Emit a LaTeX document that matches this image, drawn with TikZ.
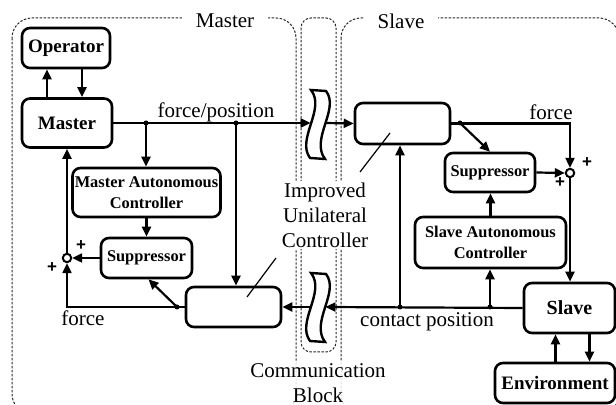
\documentclass[tikz,border=0pt]{standalone}
\usepackage{fontspec}
\setmainfont{Liberation Serif}
\newfontfamily\signfont{Liberation Sans}
\usetikzlibrary{arrows.meta}

\tikzset{
  box/.style={draw, line width=1.3pt, rounded corners=4pt, inner sep=1pt, align=center},
  big/.style={font=\bfseries\fontsize{9.5}{11}\selectfont},
  small/.style={font=\bfseries\fontsize{8.2}{10.5}\selectfont},
  arr/.style={line width=1.1pt, -{Triangle[length=5pt,width=4.5pt]}},
  lbl/.style={font=\fontsize{10.5}{12.5}\selectfont, inner sep=1pt, align=center},
  region/.style={line width=0.5pt, black!85, dash pattern=on 1.2pt off 0.8pt, rounded corners=10pt},
  sumj/.style={draw, circle, line width=1pt, minimum size=4.2pt, inner sep=0pt, fill=white},
  sgn/.style={font=\signfont\bfseries\fontsize{8.5}{8.5}\selectfont, inner sep=0pt},
  pointer/.style={line width=0.6pt},
}

\begin{document}
\begin{tikzpicture}[x=0.5pt, y=-0.5pt]
  \useasboundingbox (0,0) rectangle (616,405);

  % Regions
  \begin{scope}
    \clip (0,0) rectangle (616,405);
    \draw[region] (12,18) rectangle (296,414);
    \draw[region] (341,18) rectangle (619,414);
  \end{scope}
  \draw[region, rounded corners=5pt] (301,18) rectangle (336,352);
  \node[lbl, fill=white, inner xsep=7pt] (mreg) at (225,21) {Master};
  \node[lbl, fill=white, inner xsep=7pt] (sreg) at (401,21) {Slave};

  % Master side
  \node[box, big, minimum width=44pt, minimum height=20pt] (op) at (66,48) {Operator};
  \node[box, big, minimum width=45pt, minimum height=24.5pt] (ms) at (67,123) {Master};
  \node[box, small, minimum width=74pt, minimum height=24.5pt] (mac) at (146.5,192.5) {Master Autonomous\\Controller};
  \node[box, small, minimum width=45.5pt, minimum height=20pt] (msup) at (146.5,258) {Suppressor};
  \node[box, minimum width=47.5pt, minimum height=20pt] (mblk) at (233.5,307) {};
  \node[sumj] (mj) at (67,258) {};

  % Slave side
  \node[box, minimum width=47.5pt, minimum height=20.5pt] (sblk) at (402.5,123.5) {};
  \node[box, small, minimum width=45pt, minimum height=19.5pt] (ssup) at (490,172.5) {Suppressor};
  \node[box, small, minimum width=75.5pt, minimum height=25.5pt] (sac) at (490.5,242.5) {Slave Autonomous\\Controller};
  \node[box, font=\bfseries\fontsize{10}{12}\selectfont, minimum width=45.5pt, minimum height=25pt] (sl) at (569.5,308) {Slave};
  \node[box, big, minimum width=60pt, minimum height=20pt] (env) at (555,383) {Environment};
  \node[sumj] (sj) at (570,173) {};

  % Communication block
  \foreach \wy in {124,307} {
    \draw[line width=1.2pt, fill=white] (311,\wy-34) -- (326,\wy-33)
      .. controls (340,\wy-15) and (310,\wy+15) .. (325,\wy+35) -- (310,\wy+34)
      .. controls (296,\wy+15) and (326,\wy-15) .. cycle;
  }
  \node[inner sep=0pt, minimum width=7pt, minimum height=34pt] (wu) at (318,123) {};
  \node[inner sep=0pt, minimum width=7pt, minimum height=34pt] (wl) at (318,307) {};
  \node[lbl, fill=white] (ctrl) at (325,215) {Improved\\Unilateral\\Controller};
  \node[lbl, fill=white, fill opacity=0.85, text opacity=1] (comm) at (318,383) {Communication\\Block};

  % Branch points
  \coordinate (d1) at (146,123);
  \coordinate (d2) at (236,123);
  \coordinate (d3) at (177,307);
  \coordinate (d4) at (460,123);
  \coordinate (d5) at (400,307);
  \coordinate (d6) at (490,307);
  \foreach \d in {d1,d2,d3,d4,d5,d6} \fill (\d) circle (1.25pt);

  % Master arrows
  \draw[arr] ([xshift=-10pt]ms.north) -- ([xshift=-10pt]ms.north |- op.south);
  \draw[arr] ([xshift=7.5pt]ms.north |- op.south) -- ([xshift=7.5pt]ms.north);
  \draw[arr] (ms.east) -- (wu.west);
  \draw[arr] (d1) -- (d1 |- mac.north);
  \draw[arr] (d2) -- (d2 |- mblk.north);
  \draw[arr] (mac.south) -- (msup.north);
  \draw[arr] (msup.west) -- (mj.east);
  \draw[arr] (mj.north) -- (ms.south);
  \draw[arr] (mblk.west) -| (mj.south);
  \draw[arr] (d3) -- ([xshift=1pt]msup.south);
  \draw[arr] (wl.west) -- (mblk.east);

  % Slave arrows
  \draw[arr] (wu.east) -- (sblk.west);
  \draw[arr] (sblk.east) -| (sj.north);
  \draw[arr] (d4) -- (ssup.north);
  \draw[arr] (ssup.east) -- (sj.west);
  \draw[arr] (sj.south) -- (sj.south |- sl.north);
  \draw[arr] (sac.north) -- (sac.north |- ssup.south);
  \draw[arr] (sl.west) -- (wl.east);
  \draw[arr] (d5) -- (d5 |- sblk.south);
  \draw[arr] (d6) -- (d6 |- sac.south);
  \draw[arr] ([xshift=10pt]sl.south) -- ([xshift=10pt]sl.south |- env.north);
  \draw[arr] ([xshift=-7pt]sl.south |- env.north) -- ([xshift=-7pt]sl.south);

  % Pointers to the controller blocks
  \draw[pointer] (360,172) -- (390,133);
  \draw[pointer] (276,258) -- (247,297);

  % Signal labels
  \node[lbl] (lfp) at (216,112) {force/position};
  \node[lbl] (lmf) at (83,318) {force};
  \node[lbl] (lsf) at (551,112) {force};
  \node[lbl] (lcp) at (427,322) {contact position};

  % Signs
  \node[sgn] (p1) at (81,246) {+};
  \node[sgn] (p2) at (52,268) {+};
  \node[sgn] (p3) at (587,163) {+};
  \node[sgn] (p4) at (560,183) {+};
\end{tikzpicture}
\end{document}
